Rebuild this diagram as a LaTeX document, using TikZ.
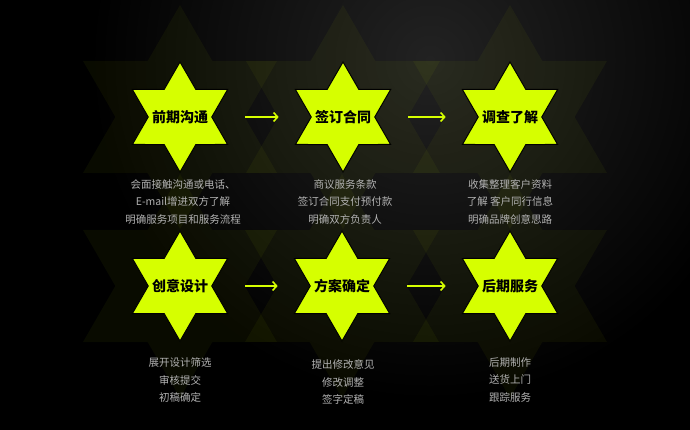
\documentclass[tikz,border=0pt]{standalone}
\usepackage{fontspec}
\newfontfamily\cjk{Noto Sans CJK SC}
\usetikzlibrary{shapes.geometric,arrows.meta}
\definecolor{starlime}{RGB}{214,255,0}
\definecolor{notegray}{RGB}{178,178,178}
\tikzset{hexstar/.style = {draw=black, line width=1pt, fill=starlime, star, star points=6, star point ratio=1.732, minimum size=110pt, inner sep=0pt},
         steptext/.style = {text=black, inner sep=0pt, font=\cjk\bfseries\fontsize{14}{14}\selectfont},
         ghost/.style = {star, star points=6, star point ratio=1.732, minimum size=224pt, inner sep=0pt, fill=starlime, fill opacity=0.045},
         note/.style = {text=notegray, align=center, inner sep=0pt, font=\cjk\fontsize{10.5}{17.5}\selectfont},
         arr/.style = {draw=starlime, line width=1.6pt, -{Straight Barb[length=4pt,width=9pt]}, shorten <=33pt, shorten >=32pt}}

\begin{document}
\begin{tikzpicture}[x=1pt,y=-1pt]
        \useasboundingbox (0,0) rectangle (690,430);
        \fill[black](0,0) rectangle (690,430);
        \shade[inner color={rgb,255:red,34;green,34;blue,34}, outer color=black](430,60) circle (340);

        % faint big stars
        \node[ghost](g1) at (180,117){};
        \node[ghost](g2) at (343,117){};
        \node[ghost](g3) at (510,117){};
        \node[ghost](g4) at (180,286){};
        \node[ghost](g5) at (342,286){};
        \node[ghost](g6) at (510,286){};

        % steps
        \node[hexstar, label={[steptext]center:前期沟通}](s1) at (180,117){};
        \node[hexstar, label={[steptext]center:签订合同}](s2) at (343,117){};
        \node[hexstar, label={[steptext]center:调查了解}](s3) at (510,117){};
        \node[hexstar, label={[steptext]center:创意设计}](s4) at (180,286){};
        \node[hexstar, label={[steptext]center:方案确定}](s5) at (342,286){};
        \node[hexstar, label={[steptext]center:后期服务}](s6) at (510,286){};

        \draw[arr](s1)--(s2);
        \draw[arr](s2)--(s3);
        \draw[arr](s4)--(s5);
        \draw[arr](s5)--(s6);

        \node[note](n1) at (183,202){会面接触沟通或电话、\\E-mail增进双方了解\\明确服务项目和服务流程};
        \node[note](n2) at (345,202){商议服务条款\\签订合同支付预付款\\明确双方负责人};
        \node[note](n3) at (510,202){收集整理客户资料\\了解 客户同行信息\\明确品牌创意思路};
        \node[note](n4) at (180,380){展开设计筛选\\审核提交\\初稿确定};
        \node[note](n5) at (343,382){提出修改意见\\修改调整\\签字定稿};
        \node[note](n6) at (510,380){后期制作\\送货上门\\跟踪服务};
    \end{tikzpicture}
\end{document}
